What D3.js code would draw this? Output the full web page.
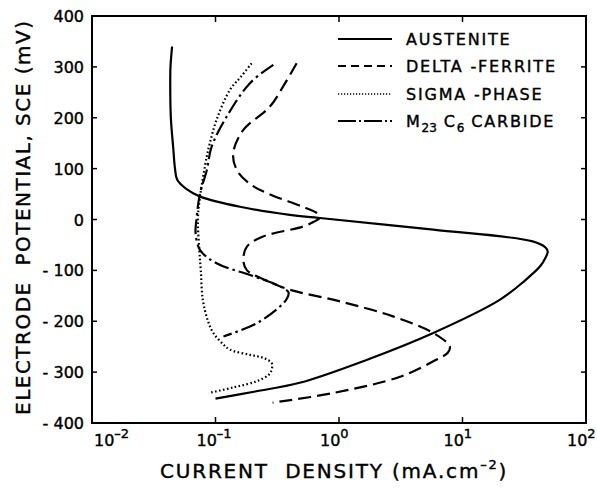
<!DOCTYPE html>
<html>
<head>
<meta charset="utf-8">
<script src="https://cdn.jsdelivr.net/npm/d3@7"></script>
<style>
html,body{margin:0;padding:0;background:#fff;}
text{font-family:"DejaVu Sans",sans-serif;fill:#000;white-space:pre;}
</style>
</head>
<body>
<svg id="chart" width="597" height="490"></svg>
<script>
// ---- data: [potential mV, current density mA.cm-2] ----
const austenite = [[340,0.0445],[300,0.0432],[275,0.043],[200,0.0435],[140,0.0455],[100,0.047],[78,0.049],[60,0.058],[45,0.075],[25,0.158],[9,0.40],[3,0.70],[-20,5.8],[-43,37],[-55,47],[-63,49],[-75,47],[-92,42.5],[-120,32],[-158,20],[-223,5.8],[-276,1.67],[-321,0.48],[-338,0.21],[-352,0.1]];
const deltaFerrite = [[307,0.454],[265,0.36],[222,0.276],[176,0.168],[130,0.139],[97,0.149],[70,0.19],[52,0.26],[25,0.51],[13,0.66],[4,0.70],[-5,0.62],[-14,0.51],[-34,0.24],[-53,0.18],[-79,0.168],[-100,0.18],[-120,0.26],[-138,0.40],[-161,1.02],[-190,2.7],[-223,5.8],[-250,7.9],[-262,7.6],[-275,6.2],[-309,3.12],[-341,0.90],[-360,0.29]];
const sigmaPhase = [[307,0.196],[280,0.16],[255,0.131],[196,0.102],[150,0.090],[124,0.085],[45,0.075],[0,0.072],[-60,0.074],[-100,0.076],[-158,0.079],[-200,0.087],[-223,0.096],[-245,0.115],[-256,0.131],[-266,0.19],[-272,0.244],[-282,0.285],[-295,0.285],[-305,0.27],[-318,0.215],[-330,0.14],[-341,0.088]];
const m23c6 = [[304,0.294],[268,0.19],[202,0.123],[143,0.093],[97,0.085],[52,0.075],[-1,0.070],[-27,0.069],[-60,0.075],[-86,0.102],[-109,0.19],[-125,0.29],[-135,0.354],[-143,0.39],[-155,0.38],[-171,0.333],[-204,0.215],[-230,0.116]];

const yTicks = [400,300,200,100,0,-100,-200,-300,-400];
const xTicks = [-2,-1,0,1,2];
const seriesNames = ["AUSTENITE","DELTA -FERRITE","SIGMA -PHASE","M23C6 CARBIDE"];

// ---- layout ----
const svg = d3.select("#chart");
const L = 92, R = 586, T = 16, B = 423;
const x = d3.scaleLog().domain([0.01,100]).range([L,R]);
const y = d3.scaleLinear().domain([-400,400]).range([B,T]);

// frame
svg.append("rect").attr("x",L).attr("y",T).attr("width",R-L).attr("height",B-T)
  .attr("fill","none").attr("stroke","#000").attr("stroke-width",2);

// ticks (inward)
const g = svg.append("g").attr("stroke","#000").attr("stroke-width",1.5);
yTicks.forEach(v=>{
  g.append("line").attr("x1",L).attr("x2",L+5).attr("y1",y(v)).attr("y2",y(v));
  g.append("line").attr("x1",R).attr("x2",R-5).attr("y1",y(v)).attr("y2",y(v));
});
xTicks.forEach(e=>{
  g.append("line").attr("x1",x(Math.pow(10,e))).attr("x2",x(Math.pow(10,e))).attr("y1",B).attr("y2",B-6);
  g.append("line").attr("x1",x(Math.pow(10,e))).attr("x2",x(Math.pow(10,e))).attr("y1",T).attr("y2",T+6);
});

// y tick labels
yTicks.forEach(v=>{
  svg.append("text").attr("x",L-8).attr("y",y(v)+6).attr("text-anchor","end")
    .attr("font-size",16).attr("stroke","#000").attr("stroke-width",0.4)
    .text(v<0 ? "- " + Math.abs(v) : v);
});
// x tick labels
xTicks.forEach(e=>{
  const t = svg.append("text").attr("x",Math.max(x(Math.pow(10,e))-19, L+2)).attr("y",446)
    .attr("text-anchor","start").attr("font-size",16).attr("stroke","#000").attr("stroke-width",0.4);
  t.append("tspan").text("10");
  t.append("tspan").attr("dy",-8).attr("font-size",13).text(e<0? "\u2013"+Math.abs(e) : e);
});

// axis titles
svg.append("text").attr("transform","translate(30,218) rotate(-90)")
  .attr("text-anchor","middle").attr("font-size",20).attr("stroke","#000").attr("stroke-width",0.4)
  .attr("textLength",394).attr("lengthAdjust","spacing")
  .text("ELECTRODE  POTENTIAL, SCE (mV)");
const xt = svg.append("text").attr("x",160).attr("y",478).attr("font-size",20).attr("letter-spacing",1.8)
  .attr("stroke","#000").attr("stroke-width",0.4);
xt.append("tspan").text("CURRENT  DENSITY (mA.cm");
xt.append("tspan").attr("dy",-9).attr("font-size",13).text("\u20132");
xt.append("tspan").attr("dy",9).text(")");

// curves
const line = d3.line().x(d=>x(d[1])).y(d=>y(d[0])).curve(d3.curveCatmullRom.alpha(0.5));
const styles = [
  {data:austenite, dash:null},
  {data:deltaFerrite, dash:"13,6"},
  {data:sigmaPhase, dash:"1.6,2.4"},
  {data:m23c6, dash:"15,4,2.5,4"}
];
styles.forEach(s=>{
  svg.append("path").attr("d",line(s.data)).attr("fill","none")
    .attr("stroke","#000").attr("stroke-width",2.2)
    .attr("stroke-dasharray",s.dash);
});

// legend
const legY = [45,72,100,127];
styles.forEach((s,i)=>{
  svg.append("line").attr("x1",338).attr("x2",392).attr("y1",legY[i]-6).attr("y2",legY[i]-6)
    .attr("stroke","#000").attr("stroke-width",i===2 ? 1.6 : 2)
    .attr("stroke-dasharray",i===1?"8,5":(i===2?"1.2,1.8":(i===3?"18,3,2,3":null)));
});
const lt = (i)=>svg.append("text").attr("x",406).attr("y",legY[i]).attr("font-size",16)
  .attr("letter-spacing",1.8).attr("stroke","#000").attr("stroke-width",0.4);
lt(0).text(seriesNames[0]);
lt(1).text(seriesNames[1]);
lt(2).text(seriesNames[2]);
const m = lt(3);
m.append("tspan").text("M");
m.append("tspan").attr("dy",5).attr("font-size",12).attr("letter-spacing",0).text("23");
m.append("tspan").attr("dy",-5).text(" C");
m.append("tspan").attr("dy",5).attr("font-size",12).attr("letter-spacing",0).text("6");
m.append("tspan").attr("dy",-5).text(" CARBIDE");
</script>
</body>
</html>
